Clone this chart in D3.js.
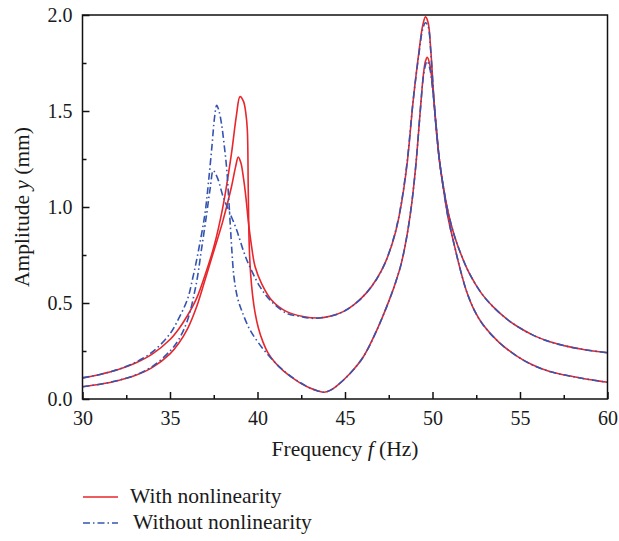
<!DOCTYPE html>
<html>
<head>
<meta charset="utf-8">
<script src="https://cdnjs.cloudflare.com/ajax/libs/d3/7.8.5/d3.min.js"></script>
<style>
  body { margin: 0; background: #fff; }
  svg text { font-family: "Liberation Serif", "DejaVu Serif", serif; fill: #1a1a1a; }
</style>
</head>
<body>
<svg id="chart" width="619" height="541"></svg>
<script>
// frequency (Hz), amplitude (mm)
const withA = [
  [30, 0.11], [31, 0.128], [32, 0.152], [33, 0.186], [34, 0.235], [35, 0.31], [35.5, 0.365],
  [36, 0.435], [36.5, 0.52], [37, 0.645], [37.5, 0.79], [38, 0.99], [38.5, 1.27], [38.8, 1.48],
  [39.0, 1.575], [39.2, 1.55], [39.33, 1.49], [39.42, 1.4], [39.47, 1.1], [39.52, 0.82],
  [39.6, 0.66], [39.72, 0.54], [39.86, 0.45], [40.05, 0.37], [40.3, 0.3], [40.6, 0.24],
  [41.0, 0.19], [41.5, 0.145], [42.0, 0.11], [42.5, 0.08], [43.0, 0.057], [43.45, 0.042],
  [43.8, 0.035], [44.15, 0.045], [44.5, 0.066], [45.3, 0.134], [46.05, 0.22], [46.8, 0.355],
  [47.55, 0.52], [47.9, 0.61], [48.2, 0.7], [48.5, 0.83], [48.8, 1.01], [49.05, 1.22],
  [49.3, 1.5], [49.48, 1.69], [49.6, 1.76], [49.7, 1.78], [49.85, 1.74], [50.0, 1.63],
  [50.2, 1.43], [50.4, 1.24], [50.65, 1.08], [50.9, 0.94], [51.25, 0.8], [51.6, 0.67],
  [51.95, 0.56], [52.4, 0.46], [52.9, 0.385], [53.8, 0.295], [54.8, 0.225], [55.7, 0.178],
  [56.7, 0.143], [57.7, 0.122], [58.6, 0.107], [60, 0.087]
];
const withB = [
  [30, 0.064], [31, 0.077], [32, 0.095], [33, 0.122], [34, 0.165], [35, 0.235], [35.5, 0.29],
  [36, 0.365], [36.5, 0.475], [37, 0.62], [37.5, 0.77], [38, 0.92], [38.5, 1.1], [38.75, 1.21],
  [38.9, 1.26], [39.05, 1.23], [39.2, 1.15], [39.35, 1.04], [39.47, 0.93], [39.67, 0.79],
  [39.86, 0.69], [40.24, 0.6], [40.8, 0.516], [41.67, 0.455], [42.6, 0.43], [43.5, 0.422],
  [44.2, 0.432], [44.9, 0.455], [45.5, 0.49], [46.2, 0.55], [46.81, 0.625], [47.3, 0.71],
  [47.8, 0.84], [48.14, 0.975], [48.53, 1.21], [48.9, 1.557], [49.2, 1.79], [49.45, 1.95],
  [49.6, 1.99], [49.75, 1.96], [49.9, 1.82], [50.05, 1.6], [50.2, 1.42], [50.4, 1.24],
  [50.65, 1.09], [50.9, 0.97], [51.25, 0.85], [51.6, 0.76], [52.1, 0.655], [52.8, 0.55],
  [53.47, 0.48], [54.2, 0.42], [54.81, 0.38], [55.8, 0.33], [56.71, 0.298], [57.7, 0.274],
  [58.62, 0.258], [60, 0.241]
];
const withoutA = [
  [30, 0.11], [31, 0.128], [32, 0.153], [33, 0.19], [34, 0.245], [35, 0.34], [35.5, 0.42],
  [36, 0.52], [36.3, 0.63], [36.6, 0.76], [37.0, 0.967], [37.2, 1.13], [37.4, 1.32],
  [37.55, 1.47], [37.67, 1.53], [37.8, 1.5], [37.95, 1.43], [38.1, 1.32], [38.24, 1.2],
  [38.33, 1.08], [38.43, 0.93], [38.53, 0.78], [38.65, 0.64], [38.85, 0.53], [39.1, 0.46],
  [39.57, 0.36], [40.24, 0.27], [40.8, 0.21], [41.3, 0.163], [41.8, 0.125], [42.4, 0.088],
  [43.0, 0.057], [43.45, 0.042], [43.8, 0.035], [44.15, 0.045], [44.5, 0.066], [45.3, 0.134],
  [46.05, 0.22], [46.8, 0.355], [47.55, 0.52], [47.9, 0.61], [48.2, 0.7], [48.5, 0.83],
  [48.8, 1.01], [49.05, 1.22], [49.3, 1.5], [49.48, 1.68], [49.6, 1.74], [49.7, 1.76],
  [49.85, 1.72], [50.0, 1.62], [50.2, 1.43], [50.4, 1.24], [50.65, 1.08], [50.9, 0.94],
  [51.25, 0.8], [51.6, 0.67], [51.95, 0.56], [52.4, 0.46], [52.9, 0.385], [53.8, 0.295],
  [54.8, 0.225], [55.7, 0.178], [56.7, 0.143], [57.7, 0.122], [58.6, 0.107], [60, 0.087]
];
const withoutB = [
  [30, 0.064], [31, 0.077], [32, 0.096], [33, 0.124], [34, 0.17], [35, 0.25], [35.5, 0.31],
  [36, 0.41], [36.5, 0.6], [36.8, 0.78], [37.1, 0.967], [37.3, 1.1], [37.47, 1.19],
  [37.62, 1.17], [37.76, 1.14], [38.05, 1.05], [38.43, 0.967], [38.81, 0.88], [39.2, 0.77],
  [39.47, 0.707], [40.14, 0.585], [40.71, 0.516], [41.67, 0.446], [42.43, 0.43], [43.2, 0.42],
  [44.2, 0.432], [44.9, 0.455], [45.5, 0.49], [46.2, 0.55], [46.81, 0.625], [47.3, 0.71],
  [47.8, 0.845], [48.14, 0.98], [48.53, 1.22], [48.9, 1.56], [49.2, 1.78], [49.45, 1.93],
  [49.6, 1.96], [49.75, 1.94], [49.9, 1.81], [50.05, 1.6], [50.2, 1.42], [50.4, 1.24],
  [50.65, 1.09], [50.9, 0.97], [51.25, 0.85], [51.6, 0.76], [52.1, 0.655], [52.8, 0.55],
  [53.47, 0.48], [54.2, 0.42], [54.81, 0.38], [55.8, 0.33], [56.71, 0.298], [57.7, 0.274],
  [58.62, 0.258], [60, 0.241]
];

const xTicks = [30, 35, 40, 45, 50, 55, 60];
const xMinor = [32.5, 37.5, 42.5, 47.5, 52.5, 57.5];
const yTicks = [0, 0.5, 1.0, 1.5, 2.0];
const yMinor = [0.25, 0.75, 1.25, 1.75];
const legendLabels = ["With nonlinearity", "Without nonlinearity"];

const RED = "#e8262b", BLUE = "#3554b0";

const svg = d3.select("#chart");
const plotLeft = 82.5, plotRight = 607.5, plotTop = 15, plotBottom = 399;

const x = d3.scaleLinear().domain([30, 60]).range([plotLeft, plotRight]);
const y = d3.scaleLinear().domain([0, 2]).range([plotBottom, plotTop]);

// clip curves to the frame
svg.append("defs").append("clipPath").attr("id", "plot")
  .append("rect").attr("x", plotLeft).attr("y", plotTop - 2)
  .attr("width", plotRight - plotLeft).attr("height", plotBottom - plotTop + 2);

const line = d3.line()
  .x(d => x(d[0]))
  .y(d => y(d[1]))
  .curve(d3.curveCatmullRom.alpha(0.5));

const curves = svg.append("g").attr("clip-path", "url(#plot)");

// red solid curves
[withA, withB].forEach(data => {
  curves.append("path")
    .attr("d", line(data))
    .attr("fill", "none")
    .attr("stroke", RED)
    .attr("stroke-width", 1.6);
});

// blue dash-dot curves
[withoutA, withoutB].forEach(data => {
  curves.append("path")
    .attr("d", line(data))
    .attr("fill", "none")
    .attr("stroke", BLUE)
    .attr("stroke-width", 1.6)
    .attr("stroke-dasharray", "7,3,1.5,3");
});

// axes (ticks point inward)
const xAxis = svg.append("g").attr("transform", `translate(0,${plotBottom})`)
  .call(d3.axisBottom(x).tickValues(xTicks).tickSize(-7).tickPadding(12).tickFormat(d3.format("d")));
const xAxisMinor = svg.append("g").attr("transform", `translate(0,${plotBottom})`)
  .call(d3.axisBottom(x).tickValues(xMinor).tickSize(-4).tickFormat(""));
const yAxis = svg.append("g").attr("transform", `translate(${plotLeft},0)`)
  .call(d3.axisLeft(y).tickValues(yTicks).tickSize(-7).tickPadding(10).tickFormat(d3.format(".1f")));
const yAxisMinor = svg.append("g").attr("transform", `translate(${plotLeft},0)`)
  .call(d3.axisLeft(y).tickValues(yMinor).tickSize(-4).tickFormat(""));

[xAxis, xAxisMinor, yAxis, yAxisMinor].forEach(g => {
  g.select(".domain").remove();
  g.selectAll(".tick line").attr("stroke", "#111").attr("stroke-width", 1.5);
  g.selectAll(".tick text").attr("font-size", 20).style("font-family", "Liberation Serif").attr("fill", "#1a1a1a");
});

// frame
svg.append("rect")
  .attr("x", plotLeft).attr("y", plotTop)
  .attr("width", plotRight - plotLeft).attr("height", plotBottom - plotTop)
  .attr("fill", "none").attr("stroke", "#111").attr("stroke-width", 1.5);

// axis titles
const xt = svg.append("text")
  .attr("x", (plotLeft + plotRight) / 2).attr("y", 456)
  .attr("text-anchor", "middle").attr("font-size", 21.5);
xt.append("tspan").text("Frequency ");
xt.append("tspan").attr("font-style", "italic").text("f");
xt.append("tspan").text(" (Hz)");

const yt = svg.append("text")
  .attr("transform", `translate(29,${(plotTop + plotBottom) / 2}) rotate(-90)`)
  .attr("text-anchor", "middle").attr("font-size", 21.5);
yt.append("tspan").text("Amplitude ");
yt.append("tspan").attr("font-style", "italic").text("y");
yt.append("tspan").text(" (mm)");

// legend
const legend = svg.append("g");
legendLabels.forEach((label, i) => {
  const ly = 497 + i * 26;
  legend.append("line")
    .attr("x1", 83).attr("x2", 118).attr("y1", ly).attr("y2", ly)
    .attr("stroke", i === 0 ? RED : BLUE).attr("stroke-width", 1.6)
    .attr("stroke-dasharray", i === 0 ? null : "7,3,1.5,3");
  legend.append("text")
    .attr("x", 130 + i * 3).attr("y", ly + 6)
    .attr("font-size", 21.5).text(label);
});
</script>
</body>
</html>
